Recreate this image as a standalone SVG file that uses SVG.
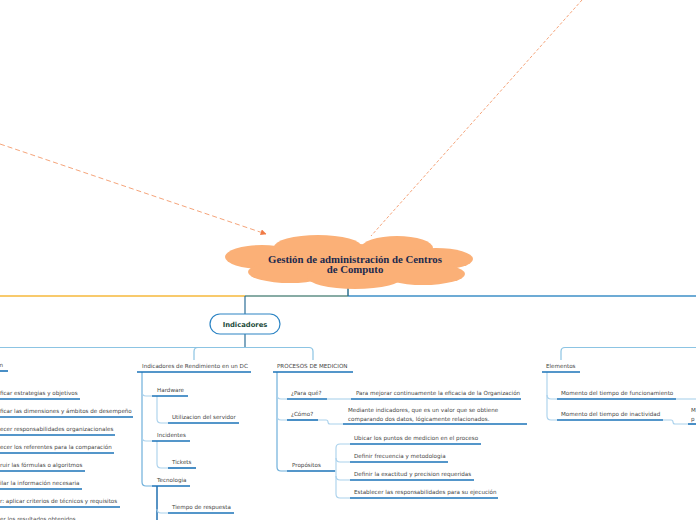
<svg xmlns="http://www.w3.org/2000/svg" width="696" height="520" viewBox="0 0 696 520">
<defs>
<marker id="ah" viewBox="0 0 10 10" refX="9" refY="5" markerWidth="6" markerHeight="6" orient="auto" markerUnits="userSpaceOnUse">
<path d="M0 0 L10 5 L0 10 z" fill="#f07a45"/>
</marker>
<style>
.t{font-family:"DejaVu Sans",Verdana,sans-serif;font-size:5.6px;fill:#444}
.u{stroke:#1b73b8;stroke-width:1.6;fill:none}
.lt{stroke:#a9d1ec;stroke-width:1.1;fill:none}
.md{stroke:#6fb0db;stroke-width:1.2;fill:none}
.dk{stroke:#2a6d96;stroke-width:1.2;fill:none}
.cl{fill:#fbb077}
</style>
</defs>
<rect width="696" height="520" fill="#fff"/>

<g id="connectors">
<path d="M0 144 L266 234" stroke="#f5a47a" stroke-width="1" stroke-dasharray="5 3" fill="none" marker-end="url(#ah)"/>
<path d="M582 0 L371 236" stroke="#f5a47a" stroke-width="1" stroke-dasharray="3 2" fill="none"/>
<path d="M0 296 H245" stroke="#f6b93b" stroke-width="1.5" fill="none"/>
<path d="M245 296 H348" stroke="#5f8f86" stroke-width="1.5" fill="none"/>
<path d="M348 296 H696" stroke="#3d8fc7" stroke-width="1.5" fill="none"/>
<path d="M348 286 V296" stroke="#2d6f8e" stroke-width="1.5" fill="none"/>
<path class="dk" d="M245 296 V314"/>
<path class="dk" d="M245 334 V347.5"/>
<path d="M0 347.5 H309 Q313 347.5 313 351.5 V360" stroke="#8cc4e3" stroke-width="1.2" fill="none"/>
<path d="M198 347.5 Q194 347.5 194 351.5 V360" stroke="#8cc4e3" stroke-width="1.2" fill="none"/>
<path d="M696 347.5 H565 Q561 347.5 561 351.5 V360" stroke="#8cc4e3" stroke-width="1.2" fill="none"/>
<path class="md" d="M142 372 V482 Q142 486 146 486 H152"/>
<path class="lt" d="M142 392 Q142 396 146 396 H152"/>
<path class="lt" d="M142 437 Q142 441 146 441 H152"/>
<path class="lt" d="M157 396 V419 Q157 423 161 423 H168"/>
<path class="lt" d="M157 441 V464 Q157 468 161 468 H168"/>
<path d="M157 486 V520" stroke="#1f6fb0" stroke-width="1.5" fill="none"/>
<path class="lt" d="M157 509 Q157 513 161 513 H168"/>
<path class="md" d="M277 372 V467 Q277 471 281 471 H287"/>
<path class="lt" d="M277 395 Q277 399 281 399 H287"/>
<path class="lt" d="M277 416 Q277 420 281 420 H287"/>
<path class="lt" d="M327 399 H351"/>
<path class="lt" d="M318 420 H326 Q328 420 328 422 Q328 424 330 424 H343"/>
<path class="lt" d="M335 471 H336"/>
<path class="lt" d="M350 444 H340 Q336 444 336 448 V494 Q336 498 340 498 H350"/>
<path class="lt" d="M336 458 Q336 462 340 462 H350"/>
<path class="lt" d="M336 476 Q336 480 340 480 H350"/>
<path class="lt" d="M547 372 V416 Q547 420 551 420 H557"/>
<path class="lt" d="M547 395 Q547 399 551 399 H557"/>
<path class="lt" d="M676 399 H696"/>
<path class="lt" d="M663 420 H671 Q673 420 673 422 Q673 424 675 424 H688"/>
</g>

<g id="central">
<ellipse class="cl" cx="350" cy="262" rx="100" ry="18"/>
<ellipse class="cl" cx="262" cy="257" rx="37" ry="12"/>
<ellipse class="cl" cx="318" cy="247" rx="44" ry="12"/>
<ellipse class="cl" cx="397" cy="248" rx="36" ry="12"/>
<ellipse class="cl" cx="436" cy="259" rx="37" ry="11"/>
<ellipse class="cl" cx="290" cy="272" rx="42" ry="11"/>
<ellipse class="cl" cx="355" cy="277" rx="48" ry="12"/>
<ellipse class="cl" cx="423" cy="274" rx="42" ry="11"/>
<text x="355" y="262.5" text-anchor="middle" font-family="'Liberation Serif',serif" font-weight="bold" font-size="10.8" fill="#1b2a4e">Gestión de administración de Centros</text>
<text x="355" y="273" text-anchor="middle" font-family="'Liberation Serif',serif" font-weight="bold" font-size="10.8" fill="#1b2a4e">de Computo</text>
</g>

<g id="indicadores">
<rect x="210" y="314" width="70" height="20" rx="10" fill="#fff" stroke="#2c84c4" stroke-width="1.2"/>
<text x="245" y="326.5" text-anchor="middle" font-family="'DejaVu Sans',Verdana,sans-serif" font-weight="bold" font-size="6.8" fill="#1d4b3b">Indicadores</text>
</g>

<g id="l0"><text class="t" x="-0.5" y="367">n</text><path class="u" d="M0 371 H8"/></g>
<g id="l1"><text class="t" x="0" y="395">ficar estrategias y objetivos</text><path class="u" d="M0 399 H80"/></g>
<g id="l2"><text class="t" x="0" y="413">ficar las dimensiones y ámbitos de desempeño</text><path class="u" d="M0 417 H133"/></g>
<g id="l3"><text class="t" x="0" y="431">ecer responsabilidades organizacionales</text><path class="u" d="M0 435 H115"/></g>
<g id="l4"><text class="t" x="0" y="449">ecer los referentes para la comparación</text><path class="u" d="M0 453 H114"/></g>
<g id="l5"><text class="t" x="0" y="467">ruir las fórmulas o algoritmos</text><path class="u" d="M0 471 H85"/></g>
<g id="l6"><text class="t" x="0" y="485">ilar la información necesaria</text><path class="u" d="M0 489 H82"/></g>
<g id="l7"><text class="t" x="0" y="503">r: aplicar criterios de técnicos y requisitos</text><path class="u" d="M0 507 H120"/></g>
<g id="l8"><text class="t" x="0" y="520.5">er los resultados obtenidos</text></g>

<g id="rendimiento"><text class="t" x="142" y="368">Indicadores de Rendimiento en un DC</text><path class="u" d="M137 372 H251"/></g>
<g id="hardware"><text class="t" x="157" y="392">Hardware</text><path class="u" d="M152 396 H188"/></g>
<g id="servidor"><text class="t" x="172" y="419">Utilizacion del servidor</text><path class="u" d="M168 423 H239"/></g>
<g id="incidentes"><text class="t" x="157" y="437">Incidentes</text><path class="u" d="M152 441 H190"/></g>
<g id="tickets"><text class="t" x="172" y="464">Tickets</text><path class="u" d="M168 468 H196"/></g>
<g id="tecnologia"><text class="t" x="157" y="482">Tecnologia</text><path class="u" d="M152 486 H190"/></g>
<g id="respuesta"><text class="t" x="172" y="509">Tiempo de respuesta</text><path class="u" d="M168 513 H234"/></g>

<g id="procesos"><text class="t" x="277" y="368">PROCESOS DE MEDICION</text><path class="u" d="M273 372 H353"/></g>
<g id="paraque"><text class="t" x="291" y="395">¿Para qué?</text><path class="u" d="M287 399 H327"/></g>
<g id="mejorar"><text class="t" x="356" y="395">Para mejorar continuamente la eficacia de la Organización</text><path class="u" d="M351 399 H521"/></g>
<g id="como"><text class="t" x="291" y="416">¿Cómo?</text><path class="u" d="M287 420 H318"/></g>
<g id="mediante"><text class="t" x="348" y="412">Mediante indicadores, que es un valor que se obtiene</text><text class="t" x="348" y="420.5">comparando dos datos, lógicamente relacionados.</text><path class="u" d="M343 424 H527"/></g>
<g id="propositos"><text class="t" x="292" y="467">Propósitos</text><path class="u" d="M287 471 H335"/></g>
<g id="ubicar"><text class="t" x="354" y="440">Ubicar los puntos de medicion en el proceso</text><path class="u" d="M350 444 H481"/></g>
<g id="frecuencia"><text class="t" x="354" y="458">Definir frecuencia y metodologia</text><path class="u" d="M350 462 H448"/></g>
<g id="exactitud"><text class="t" x="354" y="476">Definir la exactitud y precision requeridas</text><path class="u" d="M350 480 H474"/></g>
<g id="establecer"><text class="t" x="354" y="494">Establecer las responsabilidades para su ejecución</text><path class="u" d="M350 498 H498"/></g>

<g id="elementos"><text class="t" x="546" y="368">Elementos</text><path class="u" d="M542 372 H580"/></g>
<g id="funcionamiento"><text class="t" x="561" y="395">Momento del tiempo de funcionamiento</text><path class="u" d="M557 399 H676"/></g>
<g id="inactividad"><text class="t" x="561" y="416">Momento del tiempo de inactividad</text><path class="u" d="M557 420 H663"/></g>
<g id="edge"><text class="t" x="691" y="412">M</text><text class="t" x="691" y="421">p</text><path class="u" d="M688 424 H696"/></g>
</svg>
